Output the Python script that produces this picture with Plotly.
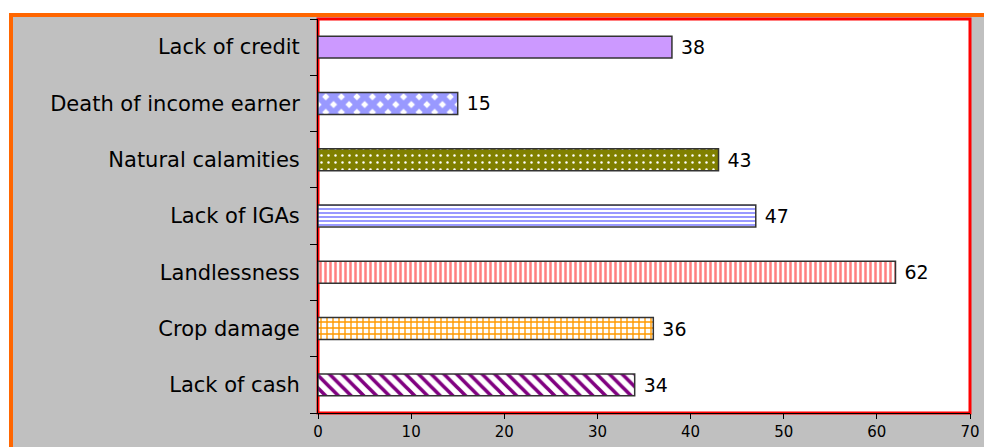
import plotly.graph_objects as go

categories = ["Lack of cash", "Crop damage", "Landlessness", "Lack of IGAs",
              "Natural calamities", "Death of income earner", "Lack of credit"]
values = [34, 36, 62, 47, 43, 15, 38]
x_ticks = [0, 10, 20, 30, 40, 50, 60, 70]

# pattern styles per bar (shape, fg, bg, size, solidity)
patterns = [
    ("\\", "#800080", "#ffffff", 9, 0.4),
    ("+", "#ff9900", "#ffffff", 6, 0.4),
    ("|", "#ff8080", "#ffffff", 5, 0.5),
    ("-", "#9999ff", "#ffffff", 4, 0.5),
    (".", "#ffffff", "#808000", 7, 0.1),
    ("x", "#9999ff", "#ffffff", 11, 0.78),
    ("", "#cc99ff", "#cc99ff", 8, 0.5),
]

W, H = 984, 447
L, R, T, B = 318, 14, 19, 34
pw, ph = W - L - R, H - T - B

fig = go.Figure()
for cat, val, (shp, fg, bg, sz, sol) in zip(categories, values, patterns):
    fig.add_trace(go.Bar(
        y=[cat], x=[val], orientation="h", width=0.39,
        marker=dict(color=bg if shp else fg,
                    line=dict(color="#333333", width=1.5),
                    pattern=dict(shape=shp, fgcolor=fg, bgcolor=bg, size=sz,
                                 solidity=sol, fillmode="replace")),
        text=[" " + str(val)], textposition="outside", cliponaxis=False,
        textfont=dict(family="DejaVu Sans", size=19, color="#000000"),
        showlegend=False,
    ))

def px_x(p):
    return (p - L) / pw

def px_y(p):
    return (H - B - p) / ph

shapes = [
    dict(type="rect", xref="paper", yref="paper", layer="below",
         x0=px_x(11), x1=px_x(1000), y0=px_y(470), y1=px_y(15),
         fillcolor="#c0c0c0", line=dict(color="#ff6600", width=4)),
    dict(type="rect", xref="paper", yref="paper", layer="below",
         x0=0, x1=1, y0=0, y1=1,
         fillcolor="#ffffff", line=dict(color="#ff0000", width=3)),
]

fig.update_layout(
    width=W, height=H,
    margin=dict(l=L, r=R, t=T, b=B, pad=0, autoexpand=False),
    paper_bgcolor="#ffffff", plot_bgcolor="#ffffff",
    bargap=0.6, shapes=shapes, uniformtext=dict(mode=False),
    font=dict(family="DejaVu Sans", color="#000000"),
    xaxis=dict(range=[0, 70], tickvals=x_ticks, ticks="outside", ticklen=5,
               tickcolor="#000000", showline=True, linecolor="#000000",
               linewidth=1, showgrid=False, zeroline=False, automargin=False,
               tickfont=dict(family="DejaVu Sans", size=15, color="#000000")),
    yaxis=dict(categoryorder="array", categoryarray=categories,
               ticks="outside", tickson="boundaries", ticklen=7,
               tickcolor="#000000", showline=True, linecolor="#000000",
               linewidth=1, showgrid=False, ticklabelstandoff=13,
               automargin=False,
               tickfont=dict(family="DejaVu Sans", size=21, color="#000000")),
)

fig.write_html("out.html",
               config={"displayModeBar": False},
               post_script="document.body.style.margin='0';"
                           "document.body.style.overflow='hidden';")
